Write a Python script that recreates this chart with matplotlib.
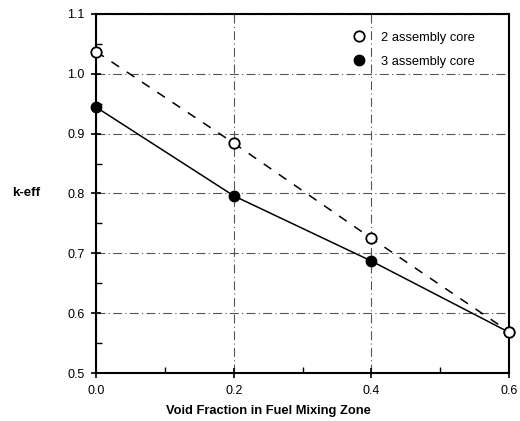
import matplotlib.pyplot as plt
from matplotlib.ticker import MultipleLocator, FormatStrFormatter

plt.rcParams['font.family'] = ['Liberation Sans', 'DejaVu Sans']

void_fraction = [0.0, 0.2, 0.4, 0.6]
keff_2_assembly = [1.037, 0.884, 0.725, 0.569]
keff_3_assembly = [0.944, 0.796, 0.687, 0.568]

fig = plt.figure(figsize=(5.2, 4.21), dpi=100)
ax = fig.add_axes([0.185, 0.114, 0.794, 0.853])

ax.plot(void_fraction, keff_2_assembly, color='black', linestyle=(0, (6, 6)),
        linewidth=1.1, zorder=2)
ax.plot(void_fraction, keff_3_assembly, color='black', linestyle='-',
        linewidth=1.1, zorder=2)
ax.plot(void_fraction, keff_3_assembly, 'o', color='black', markersize=7.5,
        linestyle='none', label='3 assembly core', zorder=3, clip_on=False)
ax.plot(void_fraction, keff_2_assembly, 'o', markerfacecolor='white',
        markeredgecolor='black', markeredgewidth=1.3, markersize=7.5,
        linestyle='none', label='2 assembly core', zorder=4, clip_on=False)

ax.set_xlim(0.0, 0.6)
ax.set_ylim(0.5, 1.1)
ax.xaxis.set_major_locator(MultipleLocator(0.2))
ax.xaxis.set_minor_locator(MultipleLocator(0.1))
ax.yaxis.set_major_locator(MultipleLocator(0.1))
ax.yaxis.set_minor_locator(MultipleLocator(0.05))
ax.xaxis.set_major_formatter(FormatStrFormatter('%.1f'))
ax.yaxis.set_major_formatter(FormatStrFormatter('%.1f'))
ax.tick_params(which='major', direction='inout', length=7, width=1.2,
               labelsize=9, pad=5)
ax.tick_params(which='minor', direction='in', length=4, width=1.0)

ax.grid(True, which='major', color='#555555', linestyle=(0, (8, 3, 1, 3)),
        linewidth=0.8)
for spine in ax.spines.values():
    spine.set_linewidth(1.5)

ax.set_xlabel('Void Fraction in Fuel Mixing Zone', fontsize=9.3,
              fontweight='bold')
ax.xaxis.set_label_coords(0.416, -0.088)
ax.set_ylabel('k-eff', fontsize=9.5, fontweight='bold', rotation=0,
              va='center')
ax.yaxis.set_label_coords(-0.17, 0.5)

handles, labels = ax.get_legend_handles_labels()
order = [1, 0]
ax.legend([handles[i] for i in order], [labels[i] for i in order],
          loc='upper right', frameon=False, fontsize=9.3, handletextpad=1.2,
          borderaxespad=0.3, labelspacing=0.9, handlelength=1.0,
          bbox_to_anchor=(0.94, 0.975))

fig.savefig('out.png', dpi=100)
